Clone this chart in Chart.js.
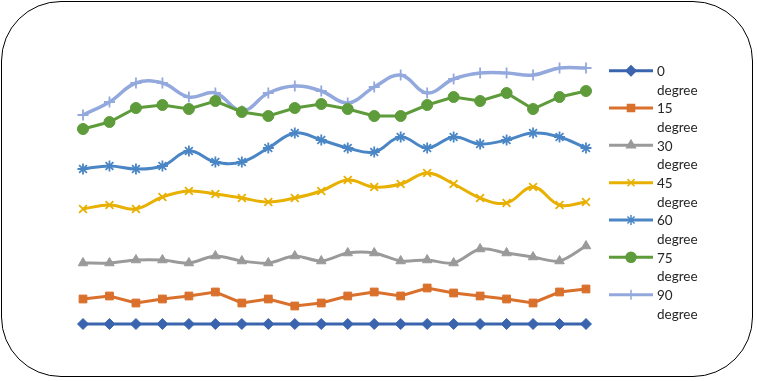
<!DOCTYPE html>
<html>
<head>
<meta charset="utf-8">
<script src="https://cdn.jsdelivr.net/npm/chart.js@4/dist/chart.umd.min.js"></script>
<style>
  html,body{margin:0;padding:0;background:#fff;}
  #wrap{position:relative;width:757px;height:381px;}
  #frame{position:absolute;left:1px;top:1px;width:752px;height:376px;border:1.6px solid #000;border-radius:60px;box-sizing:border-box;}
  canvas{position:absolute;left:0;top:0;}
</style>
</head>
<body>
<div id="wrap">
  <div id="frame"></div>
  <canvas id="chart" width="757" height="381"></canvas>
</div>
<script>
const labels = ['1','2','3','4','5','6','7','8','9','10','11','12','13','14','15','16','17','18','19','20'];
const seriesNames = ['0 degree','15 degree','30 degree','45 degree','60 degree','75 degree','90 degree'];
const deg0  = [0,0,0,0,0,0,0,0,0,0,0,0,0,0,0,0,0,0,0,0];
const deg15 = [2.5,2.8,2.1,2.5,2.8,3.2,2.1,2.5,1.8,2.1,2.8,3.2,2.8,3.6,3.1,2.8,2.5,2.1,3.2,3.5];
const deg30 = [6.1,6.1,6.4,6.4,6.1,6.8,6.3,6.1,6.8,6.3,7.1,7.1,6.3,6.4,6.1,7.5,7.1,6.7,6.3,7.8];
const deg45 = [11.5,11.9,11.5,12.7,13.3,13.0,12.6,12.2,12.6,13.3,14.4,13.7,14.0,15.1,14.0,12.6,12.1,13.7,11.9,12.2];
const deg60 = [15.5,15.8,15.5,15.8,17.3,16.2,16.2,17.6,19.1,18.4,17.6,17.2,18.7,17.6,18.7,18.0,18.4,19.1,18.7,17.6];
const deg75 = [19.5,20.2,21.6,21.9,21.5,22.3,21.2,20.8,21.6,22.0,21.5,20.8,20.8,21.9,22.7,22.3,23.1,21.5,22.7,23.3];
const deg90 = [20.9,22.2,24.1,24.1,22.7,23.1,21.3,23.1,23.8,23.3,22.1,23.7,24.9,23.1,24.5,25.1,25.1,24.9,25.6,25.6];

const colors = ['#3b64ae','#d9702c','#9a9a9a','#e8b000','#4a86c5','#5e9b3b','#93a9de'];
const markers = ['rectRot','rect','triangle','crossRot','star','circle','cross'];
const tensions = [0,0,0.3,0.4,0.4,0,0.4];
const values = [deg0,deg15,deg30,deg45,deg60,deg75,deg90];

const datasets = values.map((v,i)=>({
  label: seriesNames[i],
  data: v,
  borderColor: colors[i],
  backgroundColor: colors[i],
  borderWidth: i===6 ? 3.5 : 3,
  tension: tensions[i],
  pointStyle: markers[i],
  pointRadius: 5.5,
  pointBorderWidth: (i===3||i===4||i===6) ? 1.8 : 1,
  pointBorderColor: colors[i],
  pointBackgroundColor: colors[i],
  order: i,
  clip: false
}));

// legend drawn on the right, two lines per entry
const sideLegend = {
  id:'sideLegend',
  afterDraw(chart){
    const ctx = chart.ctx;
    ctx.save();
    chart.data.datasets.forEach((d,i)=>{
      const y = 70.7 + 37.33*i;
      ctx.strokeStyle = d.borderColor; ctx.lineWidth = 3;
      ctx.beginPath(); ctx.moveTo(609,y); ctx.lineTo(653,y); ctx.stroke();
      ctx.fillStyle = d.borderColor; ctx.strokeStyle = d.borderColor; ctx.lineWidth = 1.5;
      Chart.helpers.drawPoint(ctx,{pointStyle:d.pointStyle,radius:5,borderWidth:1.5,rotation:0},631,y);
      ctx.fillStyle = '#262626';
      ctx.font = '13.5px Lato, "Open Sans", sans-serif';
      ctx.textBaseline = 'middle'; ctx.textAlign = 'left';
      const parts = d.label.split(' ');
      ctx.fillText(parts[0],657,y+1);
      ctx.fillText(parts[1],657,y+19.7);
    });
    ctx.restore();
  }
};

new Chart(document.getElementById('chart'),{
  type:'line',
  data:{labels,datasets},
  options:{
    responsive:false,
    animation:false,
    layout:{padding:{left:83,right:171,top:64,bottom:37}},
    plugins:{legend:{display:false},tooltip:{enabled:false}},
    scales:{
      x:{display:false,offset:false},
      y:{display:false,min:-2,max:26}
    }
  },
  plugins:[sideLegend]
});
</script>
</body>
</html>
